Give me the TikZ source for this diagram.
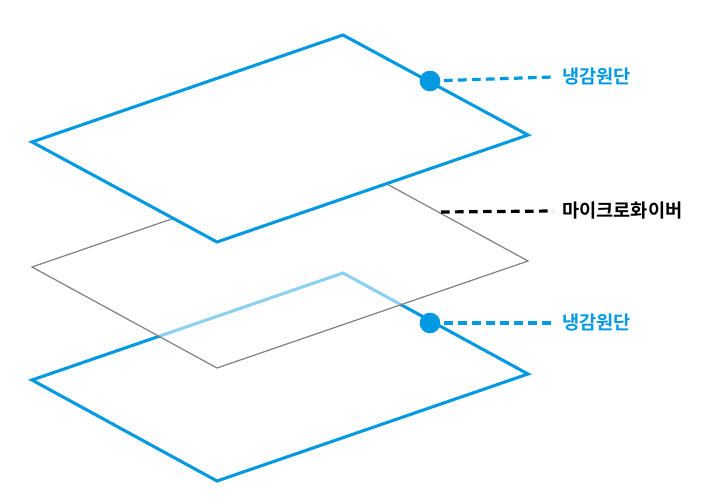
\documentclass[tikz,border=0pt]{standalone}
\usepackage{fontspec}
\newfontfamily\kr{Noto Sans CJK KR}[BoldFont={* Bold}]
\definecolor{cblue}{RGB}{0,153,226}
\definecolor{cgray}{RGB}{128,128,128}
\begin{document}
\begin{tikzpicture}[x=0.75pt,y=-0.75pt,
  plane/.style={draw=cblue,line width=2.3pt,line join=miter,fill=white},
  midplane/.style={draw=cgray,line width=0.9pt,fill=white,fill opacity=0.55,draw opacity=1},
  dot/.style={circle,fill=cblue,inner sep=0pt,minimum size=15.5pt},
  lead/.style={line width=2.4pt,dash pattern=on 6.5pt off 4pt},
  lbl/.style={font=\kr\bfseries\fontsize{14pt}{16pt}\selectfont,anchor=west,inner sep=0pt}]
\useasboundingbox (0,0) rectangle (702,503);
% bottom plane
\draw[plane] (32,380) -- (343,273) -- (528,374) -- (217,481) -- cycle;
% middle plane (translucent)
\draw[midplane] (32,267) -- (343,160) -- (528,261) -- (217,368) -- cycle;
% top plane
\draw[plane] (32,142) -- (343,35) -- (528,135) -- (217,242) -- cycle;
% dots and labels
\node[dot] (d1) at (430,81) {};
\node[dot] (d2) at (430,323) {};
\coordinate (m) at (441,212);
\node[lbl,text=cblue] (l1) at (562,77) {냉감원단};
\node[lbl,text=black] (l2) at (562,211) {마이크로화이버};
\node[lbl,text=cblue] (l3) at (562,323) {냉감원단};
\draw[lead,draw=cblue] (d1.center) -- (l1.west -| 553,0);
\draw[lead,draw=black] (m) -- (l2.west -| 553,0);
\draw[lead,draw=cblue] (d2.center) -- (l3.west -| 553,0);
\end{tikzpicture}
\end{document}
